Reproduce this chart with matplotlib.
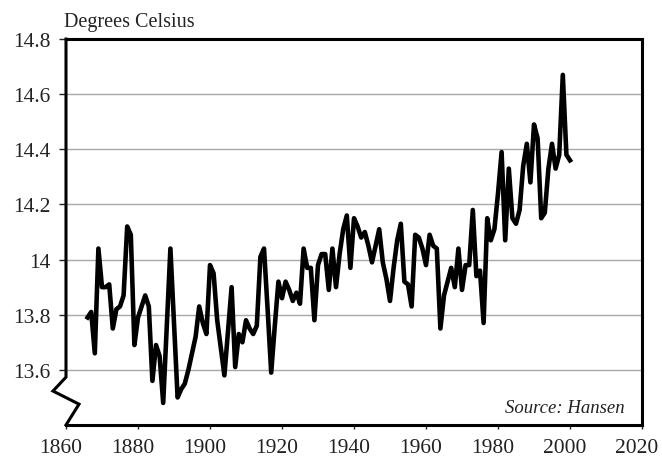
import numpy as np
import matplotlib
matplotlib.use("Agg")
import matplotlib.pyplot as plt
import matplotlib.transforms as mtransforms

plt.rcParams['font.family'] = ['Liberation Serif', 'DejaVu Serif']

# ===========================
# Data
# ===========================
years = np.arange(1866, 2001)

temps = [
    13.79, 13.81, 13.66, 14.04,                                         # 1866-1869
    13.90, 13.90, 13.91, 13.75, 13.82, 13.83, 13.87, 14.12, 14.09, 13.69,  # 1870s
    13.79, 13.83, 13.87, 13.83, 13.56, 13.69, 13.65, 13.48, 13.76, 14.04,  # 1880s
    13.77, 13.50, 13.53, 13.55, 13.60, 13.66, 13.72, 13.83, 13.77, 13.73,  # 1890s
    13.98, 13.95, 13.78, 13.68, 13.58, 13.74, 13.90, 13.61, 13.73, 13.70,  # 1900s
    13.78, 13.75, 13.73, 13.76, 14.01, 14.04, 13.82, 13.59, 13.76, 13.92,  # 1910s
    13.86, 13.92, 13.89, 13.85, 13.88, 13.84, 14.04, 13.97, 13.97, 13.78,  # 1920s
    13.98, 14.02, 14.02, 13.89, 14.04, 13.90, 14.02, 14.11, 14.16, 13.97,  # 1930s
    14.15, 14.12, 14.08, 14.10, 14.05, 13.99, 14.05, 14.11, 13.99, 13.93,  # 1940s
    13.85, 13.97, 14.07, 14.13, 13.92, 13.91, 13.83, 14.09, 14.08, 14.04,  # 1950s
    13.98, 14.09, 14.05, 14.04, 13.75, 13.87, 13.92, 13.97, 13.90, 14.04,  # 1960s
    13.89, 13.98, 13.98, 14.18, 13.94, 13.96, 13.77, 14.15, 14.07, 14.11,  # 1970s
    14.24, 14.39, 14.07, 14.33, 14.15, 14.13, 14.18, 14.34, 14.42, 14.28,  # 1980s
    14.49, 14.44, 14.15, 14.17, 14.33, 14.42, 14.33, 14.38, 14.67, 14.38,  # 1990s
    14.36,                                                              # 2000
]

x_ticks = np.arange(1860, 2021, 20)
y_ticks = [13.6, 13.8, 14.0, 14.2, 14.4, 14.6, 14.8]
y_tick_labels = ["13.6", "13.8", "14", "14.2", "14.4", "14.6", "14.8"]


def main():
    fig = plt.figure(figsize=(6.62, 4.60), dpi=100)
    ax = fig.add_axes([0.0997, 0.0739, 0.8701, 0.8391])

    ax.plot(years, temps, color="black", linewidth=3.3,
            solid_joinstyle="round", zorder=3)

    ax.set_xlim(1860, 2020)
    ax.set_ylim(13.4, 14.8)
    ax.set_xticks(x_ticks)
    ax.set_yticks(y_ticks)
    ax.set_yticklabels(y_tick_labels)

    # mřížka
    ax.grid(True, axis="y", color="#a8a8a8", linewidth=1.0)
    ax.grid(False, axis="x")
    ax.set_axisbelow(True)

    ax.tick_params(axis="y", direction="out", length=5, width=1,
                   pad=6, labelsize=15.5, colors="#222222")
    ax.tick_params(axis="x", direction="out", length=3, width=1,
                   pad=6, labelsize=15.5, colors="#222222")

    # popisky na ose x jsou v originále trochu posunuté doleva
    shift = mtransforms.ScaledTranslation(-5 / 100, 0, fig.dpi_scale_trans)
    for lbl in ax.get_xticklabels():
        lbl.set_transform(lbl.get_transform() + shift)

    for side in ("top", "right", "bottom"):
        ax.spines[side].set_linewidth(2.2)
        ax.spines[side].set_color("black")
    ax.spines["left"].set_visible(False)

    # levá osa se zlomem
    bx = [0.0, 0.0, -0.0226, 0.0226, 0.0]
    by = [1.0, 0.124, 0.088, 0.054, 0.0]
    ax.plot(bx, by, color="black", linewidth=2.2, transform=ax.transAxes,
            clip_on=False, zorder=4, solid_joinstyle="miter")

    fig.text(0.096, 0.952, "Degrees Celsius", fontsize=14.5,
             ha="left", va="center", color="#222222")
    ax.text(0.970, 0.045, "Source: Hansen", fontsize=13.5, style="italic",
            ha="right", va="center", transform=ax.transAxes, color="#222222")

    fig.savefig("out.png", dpi=100)


if __name__ == "__main__":
    main()
